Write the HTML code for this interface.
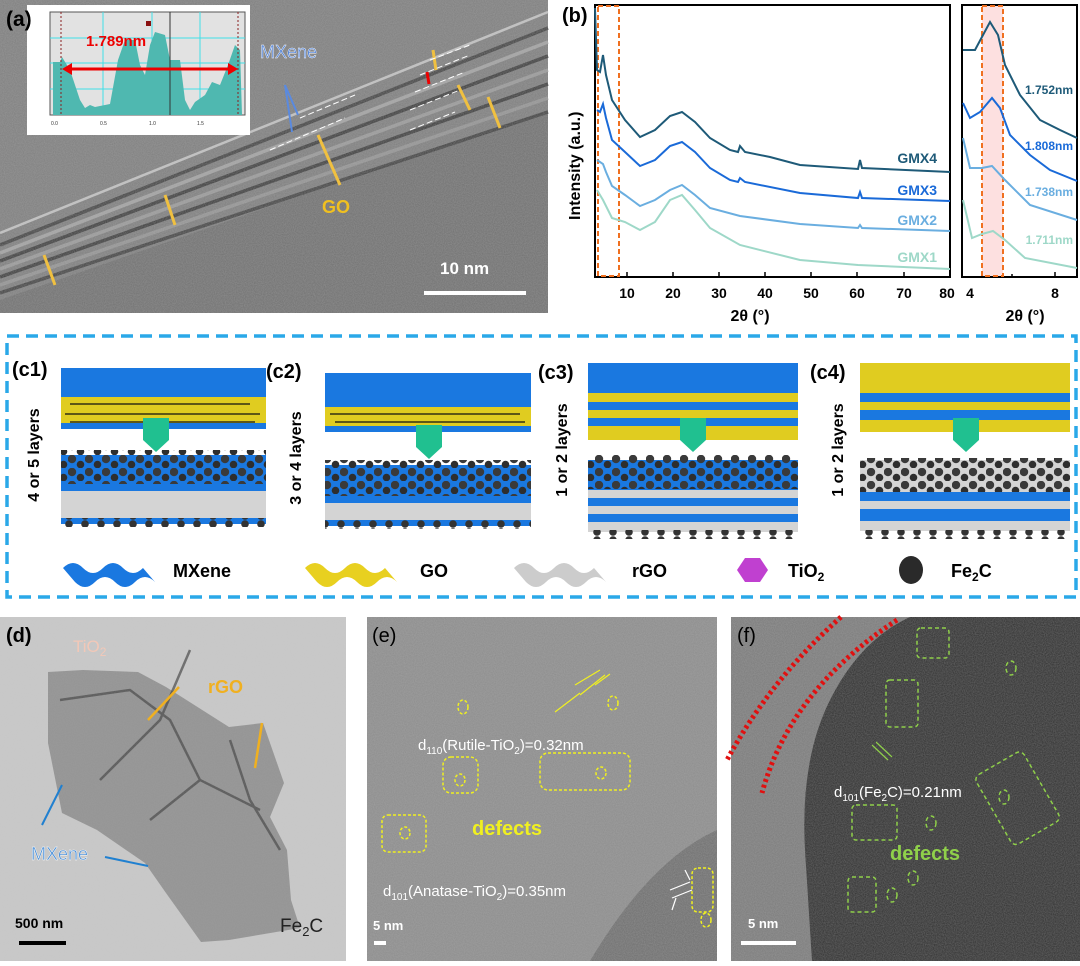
<!DOCTYPE html><html><head><style>
body{margin:0;width:1080px;height:961px;background:#fff;overflow:hidden;font-family:"Liberation Sans",sans-serif}
</style></head><body>
<svg width="1080" height="961" viewBox="0 0 1080 961" xmlns="http://www.w3.org/2000/svg" font-family="Liberation Sans, sans-serif">
<defs>
<filter id="n1" x="0" y="0" width="100%" height="100%"><feTurbulence type="fractalNoise" baseFrequency="0.9" numOctaves="2" seed="3"/><feColorMatrix type="matrix" values="0 0 0 0 0.5  0 0 0 0 0.5  0 0 0 0 0.5  0 0 0 0.4 0"/></filter>
<pattern id="sph" width="17" height="13" patternUnits="userSpaceOnUse"><circle cx="4" cy="4" r="4.2" fill="#3a3a3a"/><circle cx="12.5" cy="9.5" r="3.8" fill="#2e2e2e"/></pattern>
<pattern id="sph2" width="16" height="8" patternUnits="userSpaceOnUse"><circle cx="5" cy="4" r="3.8" fill="#333"/></pattern>
<g id="mx"><path d="M0,8 q10,-10 20,0 t20,0 t20,0 t20,0 l12,14 q-10,-10 -20,0 t-20,0 t-20,0 t-20,0z"/></g>
</defs>
<!-- (a) -->
<rect x="0" y="0" width="548" height="313" fill="#7e7e7e"/>
<polygon points="0,300 548,110 548,313 0,313" fill="#707070"/>
<g stroke-width="3.5" opacity="0.85">
<line x1="0" y1="233" x2="548" y2="12" stroke="#d0d0d0" stroke-width="2.5"/>
<line x1="0" y1="245" x2="548" y2="28" stroke="#3a3a3a"/>
<line x1="0" y1="253" x2="548" y2="42" stroke="#aaa"/>
<line x1="0" y1="261" x2="548" y2="56" stroke="#333"/>
<line x1="0" y1="269" x2="548" y2="70" stroke="#a0a0a0"/>
<line x1="0" y1="277" x2="548" y2="84" stroke="#333"/>
<line x1="0" y1="285" x2="548" y2="98" stroke="#999"/>
<line x1="0" y1="293" x2="548" y2="112" stroke="#3a3a3a"/>
</g>
<rect x="0" y="0" width="548" height="313" filter="url(#n1)"/>
<rect x="27" y="5" width="223" height="130" fill="#fff"/>
<rect x="50" y="12" width="195" height="103" fill="#e2e2e2" stroke="#555"/>
<g stroke="#40e0e8" stroke-width="1"><line x1="50" y1="38" x2="245" y2="38"/><line x1="50" y1="63" x2="245" y2="63"/><line x1="50" y1="89" x2="245" y2="89"/><line x1="103" y1="12" x2="103" y2="115"/><line x1="152" y1="12" x2="152" y2="115"/><line x1="200" y1="12" x2="200" y2="115"/></g>
<path d="M53,62 L60,62 L62,57 L70,70 L75,85 L80,100 L85,108 L90,105 L95,107 L110,104 L118,60 L125,40 L135,40 L140,65 L145,75 L150,45 L155,32 L165,35 L170,60 L180,60 L185,100 L190,110 L195,102 L205,95 L212,82 L220,85 L228,65 L235,45 L240,50 L242,115 L53,115Z" fill="#4fb8b0"/>
<line x1="170" y1="12" x2="170" y2="115" stroke="#333"/>
<g stroke="#8a2020" stroke-dasharray="2,2"><line x1="61" y1="12" x2="61" y2="115"/><line x1="238" y1="12" x2="238" y2="115"/></g>
<rect x="146" y="21" width="5" height="5" fill="#8a1010"/>
<line x1="68" y1="69" x2="232" y2="69" stroke="#e00" stroke-width="3"/>
<polygon points="62,69 72,63 72,75" fill="#e00"/><polygon points="238,69 228,63 228,75" fill="#e00"/>
<text x="86" y="46" font-size="15" font-weight="bold" fill="#e00">1.789nm</text>
<g font-size="5" fill="#333"><text x="51" y="125">0.0</text><text x="100" y="125">0.5</text><text x="149" y="125">1.0</text><text x="197" y="125">1.5</text></g>
<text x="260" y="58" font-size="18" fill="#5585d8" stroke="#fff" stroke-width="0.4">MXene</text>
<text x="322" y="213" font-size="18" font-weight="bold" fill="#f0c020">GO</text>
<text x="6" y="26" font-size="21" font-weight="bold" fill="#000">(a)</text>
<line x1="424" y1="293" x2="526" y2="293" stroke="#fff" stroke-width="4"/>
<text x="440" y="274" font-size="17" font-weight="bold" fill="#fff">10 nm</text>
<g stroke="#f0c040" stroke-width="3"><line x1="55" y1="285" x2="44" y2="255"/><line x1="175" y1="225" x2="165" y2="195"/><line x1="340" y1="185" x2="318" y2="135"/><line x1="470" y1="110" x2="458" y2="85"/><line x1="500" y1="128" x2="488" y2="97"/><line x1="433" y1="50" x2="436" y2="70"/></g>
<g stroke="#5a8ae0" stroke-width="2"><line x1="285" y1="85" x2="298" y2="115"/><line x1="285" y1="85" x2="292" y2="132"/></g>
<g fill="none" stroke="#fff" stroke-width="1" stroke-dasharray="6,3"><line x1="270" y1="150" x2="345" y2="118"/><line x1="300" y1="118" x2="355" y2="95"/><line x1="410" y1="130" x2="455" y2="112"/><line x1="410" y1="110" x2="460" y2="90"/><line x1="420" y1="75" x2="470" y2="55"/><line x1="415" y1="92" x2="465" y2="72"/><line x1="430" y1="60" x2="470" y2="45"/></g>
<line x1="427" y1="72" x2="429" y2="84" stroke="#e00" stroke-width="3"/>
<!-- (b) -->
<text x="562" y="22" font-size="20" font-weight="bold">(b)</text>
<rect x="595" y="5" width="355" height="272" fill="none" stroke="#000" stroke-width="2"/>
<rect x="962" y="5" width="115" height="272" fill="none" stroke="#000" stroke-width="2"/>
<rect x="598" y="6" width="21" height="270" fill="none" stroke="#f07020" stroke-width="2" stroke-dasharray="5,3"/>
<rect x="982" y="6" width="21" height="270" fill="#fde0e0" stroke="#f07020" stroke-width="2" stroke-dasharray="5,3"/>
<g stroke="#000" stroke-width="1.5"><line x1="627" y1="277" x2="627" y2="272"/><line x1="673" y1="277" x2="673" y2="272"/><line x1="719" y1="277" x2="719" y2="272"/><line x1="765" y1="277" x2="765" y2="272"/><line x1="811" y1="277" x2="811" y2="272"/><line x1="857" y1="277" x2="857" y2="272"/><line x1="904" y1="277" x2="904" y2="272"/><line x1="1055" y1="277" x2="1055" y2="272"/><line x1="1012" y1="277" x2="1012" y2="274"/></g>
<g fill="none" stroke-width="2">
<path stroke="#1e5a78" d="M595,8 L597,70 L600,72 L603,55 L606,75 L612,100 L625,120 L640,137 L655,130 L670,116 L682,112 L695,122 L710,138 L730,150 L738,152 L740,146 L745,152 L770,157 L800,165 L858,169 L860,160 L862,168 L950,172"/>
<path stroke="#1a6ad8" d="M597,110 L600,112 L603,104 L606,118 L612,140 L625,152 L640,166 L655,160 L670,146 L682,142 L695,152 L710,168 L730,180 L738,182 L740,178 L745,182 L800,193 L858,198 L860,192 L862,198 L950,201"/>
<path stroke="#6aaee0" d="M597,160 L603,164 L606,172 L612,186 L625,195 L640,206 L655,200 L670,190 L682,185 L695,195 L710,208 L740,216 L800,224 L858,228 L860,225 L862,228 L950,231"/>
<path stroke="#9ed8c8" d="M597,190 L603,200 L612,218 L625,222 L640,230 L655,222 L670,200 L682,195 L695,210 L710,228 L740,245 L800,260 L858,265 L950,269"/>
<path stroke="#1e5a78" d="M963,50 L975,50 L983,35 L990,22 L998,35 L1005,65 L1020,95 L1040,120 L1060,130 L1077,138"/>
<path stroke="#1a6ad8" d="M963,103 L970,118 L980,112 L992,98 L1000,108 L1010,135 L1030,155 L1050,170 L1077,181"/>
<path stroke="#6aaee0" d="M963,138 L970,168 L982,168 L992,166 L1005,180 L1030,205 L1077,220"/>
<path stroke="#9ed8c8" d="M963,200 L972,238 L982,234 L993,231 L1005,240 L1025,258 L1077,268"/>
</g>
<g font-size="14" font-weight="bold" text-anchor="end"><text x="937" y="163" fill="#1e5a78">GMX4</text><text x="937" y="195" fill="#1a6ad8">GMX3</text><text x="937" y="225" fill="#6aaee0">GMX2</text><text x="937" y="262" fill="#9ed8c8">GMX1</text></g>
<g font-size="12" font-weight="bold" text-anchor="end"><text x="1073" y="94" fill="#1e5a78">1.752nm</text><text x="1073" y="150" fill="#1a6ad8">1.808nm</text><text x="1073" y="196" fill="#6aaee0">1.738nm</text><text x="1073" y="244" fill="#9ed8c8">1.711nm</text></g>
<g font-size="14" font-weight="bold" text-anchor="middle"><text x="627" y="298">10</text><text x="673" y="298">20</text><text x="719" y="298">30</text><text x="765" y="298">40</text><text x="811" y="298">50</text><text x="857" y="298">60</text><text x="904" y="298">70</text><text x="947" y="298">80</text><text x="970" y="298">4</text><text x="1055" y="298">8</text></g>
<text x="750" y="321" font-size="16" font-weight="bold" text-anchor="middle">2θ (°)</text>
<text x="1025" y="321" font-size="16" font-weight="bold" text-anchor="middle">2θ (°)</text>
<text transform="translate(580,220) rotate(-90)" font-size="16" font-weight="bold">Intensity (a.u.)</text>
<!-- (c) -->
<rect x="7" y="336" width="1069" height="261" fill="none" stroke="#2aa8e8" stroke-width="3.5" stroke-dasharray="12,7"/>
<!-- c1 -->
<rect x="61" y="368" width="205" height="29" fill="#1a78e0"/><rect x="61" y="397" width="205" height="26" fill="#e0cc20"/><rect x="61" y="423" width="205" height="6" fill="#1a78e0"/>
<g stroke="#111" stroke-width="1.2"><line x1="70" y1="404" x2="250" y2="404"/><line x1="65" y1="414" x2="260" y2="414"/><line x1="70" y1="422" x2="255" y2="422"/></g>
<rect x="61" y="455" width="205" height="36" fill="#1a78e0"/><rect x="61" y="450" width="205" height="34" fill="url(#sph)"/>
<rect x="61" y="491" width="205" height="27" fill="#d4d4d4"/><rect x="61" y="518" width="205" height="6" fill="#1a78e0"/><rect x="61" y="518" width="205" height="9" fill="url(#sph2)"/>
<path d="M143,418 h26 v22 l-13,12 l-13,-12z" fill="#20c090"/>
<!-- c2 -->
<rect x="325" y="373" width="206" height="34" fill="#1a78e0"/><rect x="325" y="407" width="206" height="19" fill="#e0cc20"/><rect x="325" y="426" width="206" height="6" fill="#1a78e0"/>
<g stroke="#111" stroke-width="1.2"><line x1="330" y1="414" x2="520" y2="414"/><line x1="335" y1="422" x2="525" y2="422"/></g>
<rect x="325" y="465" width="206" height="38" fill="#1a78e0"/><rect x="325" y="460" width="206" height="36" fill="url(#sph)"/>
<rect x="325" y="503" width="206" height="17" fill="#d4d4d4"/><rect x="325" y="520" width="206" height="6" fill="#1a78e0"/><rect x="325" y="520" width="206" height="9" fill="url(#sph2)"/>
<path d="M416,425 h26 v22 l-13,12 l-13,-12z" fill="#20c090"/>
<!-- c3 -->
<rect x="588" y="363" width="210" height="30" fill="#1a78e0"/>
<rect x="588" y="393" width="210" height="9" fill="#e0cc20"/><rect x="588" y="402" width="210" height="8" fill="#1a78e0"/><rect x="588" y="410" width="210" height="8" fill="#e0cc20"/><rect x="588" y="418" width="210" height="8" fill="#1a78e0"/><rect x="588" y="426" width="210" height="6" fill="#e0cc20"/><rect x="588" y="432" width="210" height="8" fill="#e0cc20"/>
<rect x="588" y="460" width="210" height="30" fill="#1a78e0"/><rect x="588" y="455" width="210" height="34" fill="url(#sph)"/>
<rect x="588" y="490" width="210" height="8" fill="#d4d4d4"/><rect x="588" y="498" width="210" height="8" fill="#1a78e0"/><rect x="588" y="506" width="210" height="8" fill="#d4d4d4"/><rect x="588" y="514" width="210" height="8" fill="#1a78e0"/><rect x="588" y="522" width="210" height="10" fill="#d4d4d4"/><rect x="588" y="530" width="210" height="9" fill="url(#sph2)"/>
<path d="M680,418 h26 v22 l-13,12 l-13,-12z" fill="#20c090"/>
<!-- c4 -->
<rect x="860" y="363" width="210" height="30" fill="#e0cc20"/>
<rect x="860" y="393" width="210" height="9" fill="#1a78e0"/><rect x="860" y="402" width="210" height="8" fill="#e0cc20"/><rect x="860" y="410" width="210" height="10" fill="#1a78e0"/><rect x="860" y="420" width="210" height="12" fill="#e0cc20"/>
<rect x="860" y="460" width="210" height="32" fill="#d4d4d4"/><rect x="860" y="458" width="210" height="34" fill="url(#sph)"/>
<rect x="860" y="492" width="210" height="9" fill="#1a78e0"/><rect x="860" y="501" width="210" height="8" fill="#d4d4d4"/><rect x="860" y="509" width="210" height="12" fill="#1a78e0"/><rect x="860" y="521" width="210" height="10" fill="#d4d4d4"/><rect x="860" y="530" width="210" height="9" fill="url(#sph2)"/>
<path d="M953,418 h26 v22 l-13,12 l-13,-12z" fill="#20c090"/>
<g font-size="20" font-weight="bold"><text x="12" y="376">(c1)</text><text x="266" y="378">(c2)</text><text x="538" y="379">(c3)</text><text x="810" y="379">(c4)</text></g>
<g font-size="16" font-weight="bold" text-anchor="middle"><text transform="translate(39,455) rotate(-90)">4 or 5 layers</text><text transform="translate(301,458) rotate(-90)">3 or 4 layers</text><text transform="translate(567,450) rotate(-90)">1 or 2 layers</text><text transform="translate(843,450) rotate(-90)">1 or 2 layers</text></g>
<use href="#mx" transform="translate(63,560)" fill="#1a78e0"/>
<use href="#mx" transform="translate(305,560)" fill="#e8d020"/>
<use href="#mx" transform="translate(514,560)" fill="#cccccc"/>
<polygon points="737,570 745,558 760,558 768,570 760,582 745,582" fill="#c040d0"/>
<ellipse cx="911" cy="570" rx="12" ry="14" fill="#2a2a2a"/>
<g font-size="18" font-weight="bold"><text x="173" y="577">MXene</text><text x="420" y="577">GO</text><text x="632" y="577">rGO</text><text x="788" y="577">TiO<tspan font-size="12" dy="4">2</tspan></text><text x="951" y="577">Fe<tspan font-size="12" dy="4">2</tspan><tspan dy="-4">C</tspan></text></g>
<!-- (d) -->
<rect x="0" y="617" width="346" height="344" fill="#c9c9c9"/>
<path d="M48,672 L83,670 L138,672 L166,687 L229,727 L263,723 L284,783 L270,817 L287,850 L291,900 L300,928 L229,940 L201,942 L166,893 L145,863 L97,830 L62,813 L48,743Z" fill="#949494"/>
<g stroke="#444" stroke-width="2.5" fill="none" opacity="0.7"><path d="M60,700 L130,690 L170,720 L200,780 L260,810"/><path d="M100,780 L160,720 L190,650"/><path d="M230,740 L250,800 L280,850"/><path d="M150,820 L200,780"/></g>
<rect x="0" y="617" width="346" height="344" filter="url(#n1)" opacity="0.4"/>
<text x="6" y="642" font-size="20" font-weight="bold">(d)</text>
<text x="73" y="652" font-size="17" fill="#f2c8b8">TiO<tspan font-size="12" dy="4">2</tspan></text>
<text x="208" y="693" font-size="18" font-weight="bold" fill="#f0b020">rGO</text>
<line x1="179" y1="687" x2="148" y2="720" stroke="#f0b020" stroke-width="2.5"/>
<line x1="262" y1="723" x2="255" y2="768" stroke="#f0b020" stroke-width="2.5"/>
<text x="31" y="860" font-size="18" fill="#4a8fd8" stroke="#fff" stroke-width="0.4">MXene</text>
<line x1="42" y1="825" x2="62" y2="785" stroke="#2080d0" stroke-width="2"/>
<line x1="105" y1="857" x2="148" y2="866" stroke="#2080d0" stroke-width="2"/>
<text x="280" y="932" font-size="19" fill="#222">Fe<tspan font-size="13" dy="4">2</tspan><tspan dy="-4">C</tspan></text>
<line x1="19" y1="943" x2="66" y2="943" stroke="#000" stroke-width="4"/>
<text x="15" y="928" font-size="14" font-weight="bold">500 nm</text>
<!-- (e) -->
<rect x="367" y="617" width="350" height="344" fill="#8c8c8c"/>
<path d="M590,961 Q650,860 717,830 V961Z" fill="#6e6e6e"/>
<rect x="367" y="617" width="350" height="344" filter="url(#n1)"/>
<text x="372" y="642" font-size="20">(e)</text>
<text x="418" y="750" font-size="15" fill="#fff">d<tspan font-size="10" dy="4">110</tspan><tspan dy="-4">(Rutile-TiO</tspan><tspan font-size="10" dy="4">2</tspan><tspan dy="-4">)=0.32nm</tspan></text>
<text x="472" y="835" font-size="20" font-weight="bold" fill="#f0f020">defects</text>
<text x="383" y="896" font-size="15" fill="#fff">d<tspan font-size="10" dy="4">101</tspan><tspan dy="-4">(Anatase-TiO</tspan><tspan font-size="10" dy="4">2</tspan><tspan dy="-4">)=0.35nm</tspan></text>
<g fill="none" stroke="#f0f020" stroke-dasharray="3,2" stroke-width="1.5"><rect x="443" y="757" width="35" height="36" rx="8"/><rect x="540" y="753" width="90" height="37" rx="8"/><rect x="382" y="815" width="44" height="37" rx="6"/><rect x="692" y="868" width="21" height="44" rx="6"/><ellipse cx="463" cy="707" rx="5" ry="7"/><ellipse cx="613" cy="703" rx="5" ry="7"/><ellipse cx="706" cy="920" rx="5" ry="7"/><ellipse cx="460" cy="780" rx="5" ry="6"/><ellipse cx="601" cy="773" rx="5" ry="6"/><ellipse cx="405" cy="833" rx="5" ry="6"/></g>
<g stroke="#f0f020" stroke-width="1.2"><line x1="575" y1="685" x2="600" y2="670"/><line x1="580" y1="695" x2="605" y2="675"/><line x1="555" y1="712" x2="580" y2="693"/><line x1="610" y1="674" x2="595" y2="685"/></g>
<g stroke="#fff" stroke-width="1.2"><line x1="670" y1="890" x2="690" y2="882"/><line x1="672" y1="898" x2="692" y2="890"/><line x1="685" y1="870" x2="690" y2="880"/><line x1="672" y1="910" x2="676" y2="898"/></g>
<line x1="374" y1="943" x2="386" y2="943" stroke="#fff" stroke-width="4"/><text x="373" y="930" font-size="13" font-weight="bold" fill="#fff">5 nm</text>
<!-- (f) -->
<rect x="731" y="617" width="349" height="344" fill="#2e2e2e"/>
<path d="M731,617 H910 Q860,640 830,700 Q800,760 805,850 L812,961 H731Z" fill="#7a7a7a"/>
<rect x="731" y="617" width="349" height="344" filter="url(#n1)"/>
<text x="737" y="642" font-size="20">(f)</text>
<g fill="none" stroke="#e01010" stroke-width="5" stroke-dasharray="3,3"><path d="M841,617 Q770,680 727,760"/><path d="M897,620 Q790,690 762,793"/></g>
<text x="834" y="797" font-size="15" fill="#fff">d<tspan font-size="10" dy="4">101</tspan><tspan dy="-4">(Fe</tspan><tspan font-size="10" dy="4">2</tspan><tspan dy="-4">C)=0.21nm</tspan></text>
<text x="890" y="860" font-size="20" font-weight="bold" fill="#8fd04a">defects</text>
<g fill="none" stroke="#8fd04a" stroke-dasharray="4,3" stroke-width="1.5"><rect x="917" y="628" width="32" height="30" rx="4"/><rect x="886" y="680" width="32" height="47" rx="4"/><rect x="852" y="805" width="45" height="35" rx="4"/><rect x="848" y="877" width="28" height="35" rx="4"/><rect x="990" y="758" width="55" height="80" rx="6" transform="rotate(-30 1018 798)"/><ellipse cx="1011" cy="668" rx="5" ry="7"/><ellipse cx="1004" cy="797" rx="5" ry="7"/><ellipse cx="931" cy="823" rx="5" ry="7"/><ellipse cx="913" cy="878" rx="5" ry="7"/><ellipse cx="892" cy="895" rx="5" ry="7"/></g>
<g stroke="#8fd04a" stroke-width="1.2"><line x1="872" y1="745" x2="888" y2="760"/><line x1="876" y1="742" x2="892" y2="757"/></g>
<line x1="741" y1="943" x2="796" y2="943" stroke="#fff" stroke-width="4"/><text x="748" y="928" font-size="13" font-weight="bold" fill="#fff">5 nm</text>
</svg>
</body></html>
